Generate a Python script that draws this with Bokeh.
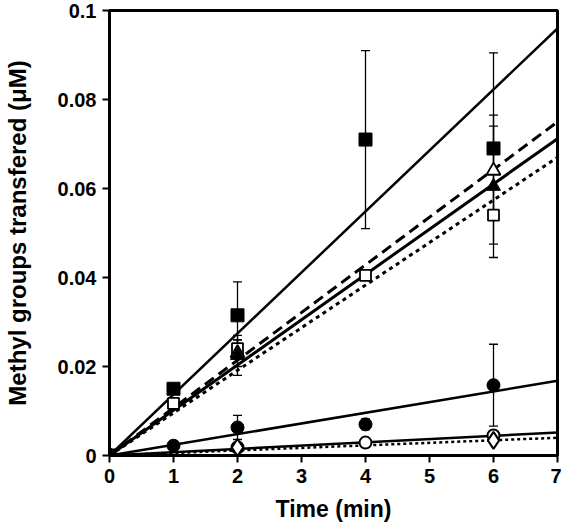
from bokeh.plotting import figure
from bokeh.models import ColumnDataSource, Whisker, TeeHead, FixedTicker, Range1d
from bokeh.embed import file_html
from bokeh.resources import INLINE

# ---- data ----
x_fit_range = [0, 7]

fsq_x = [0, 1, 2, 4, 6]
fsq_y = [0, 0.015, 0.0315, 0.071, 0.069]
fsq_err = [0, 0, 0.0075, 0.020, 0.0215]
fsq_slope = 0.01371

otri_x = [0, 2, 6]
otri_y = [0, 0.0230, 0.064]
otri_err = [0, 0.003, 0.010]
otri_slope = 0.01071

ftri_x = [0, 2, 6]
ftri_y = [0, 0.0225, 0.0605]
ftri_err = [0, 0.0045, 0.016]
ftri_slope = 0.01017

osq_x = [0, 1, 2, 4, 6]
osq_y = [0, 0.0117, 0.024, 0.0405, 0.054]
osq_err = [0, 0, 0.002, 0.0005, 0.001]
osq_slope = 0.00957

fcir_x = [0, 1, 2, 4, 6]
fcir_y = [0, 0.0022, 0.0063, 0.0070, 0.0158]
fcir_err = [0, 0, 0.0027, 0.0012, 0.0092]
fcir_slope = 0.0024

ocir_x = [0, 2, 4, 6]
ocir_y = [0, 0.0018, 0.0029, 0.0045]
ocir_slope = 0.00074

odia_x = [0, 2, 6]
odia_y = [0, 0.0018, 0.0034]
odia_slope = 0.00057

x_ticks = [0, 1, 2, 3, 4, 5, 6, 7]
y_ticks = [0, 0.02, 0.04, 0.06, 0.08, 0.1]
y_tick_labels = ["0", "0.02", "0.04", "0.06", "0.08", "0.1"]

FONT = "Liberation Sans"

p = figure(width=561, height=525, output_backend="svg", toolbar_location=None,
           x_range=Range1d(0, 7), y_range=Range1d(0, 0.1),
           min_border_left=105, min_border_right=4, min_border_top=10, min_border_bottom=70)
p.grid.visible = False
p.outline_line_color = "black"
p.outline_line_width = 3
p.background_fill_color = "white"
p.border_fill_color = "white"

# fit lines
def fit(slope):
    return [slope * x for x in x_fit_range]

p.line(x_fit_range, fit(fsq_slope), line_color="black", line_width=2.5)
p.line(x_fit_range, fit(otri_slope), line_color="black", line_width=3, line_dash="11 6")
p.line(x_fit_range, fit(ftri_slope), line_color="black", line_width=3)
p.line(x_fit_range, fit(osq_slope), line_color="black", line_width=3, line_dash="4 4")
p.line(x_fit_range, fit(fcir_slope), line_color="black", line_width=2.5)
p.line(x_fit_range, fit(ocir_slope), line_color="black", line_width=2.5)
p.line(x_fit_range, fit(odia_slope), line_color="black", line_width=2.5, line_dash="3 3")

# error bars
def add_err(xs, ys, errs):
    src = ColumnDataSource(dict(x=xs,
                                lo=[y - e for y, e in zip(ys, errs)],
                                hi=[y + e for y, e in zip(ys, errs)]))
    w = Whisker(source=src, base="x", lower="lo", upper="hi",
                line_color="black", line_width=1.3,
                upper_head=TeeHead(size=9, line_width=1.3, line_color="black"),
                lower_head=TeeHead(size=9, line_width=1.3, line_color="black"))
    p.add_layout(w)

add_err(fsq_x[2:], fsq_y[2:], fsq_err[2:])
add_err(otri_x[1:], otri_y[1:], otri_err[1:])
add_err(ftri_x[1:], ftri_y[1:], ftri_err[1:])
add_err(osq_x[2:], osq_y[2:], osq_err[2:])
add_err(fcir_x[2:], fcir_y[2:], fcir_err[2:])

# markers
p.scatter(ocir_x, ocir_y, marker="circle", size=12, fill_color="white", line_color="black", line_width=2)
p.scatter(odia_x, odia_y, marker="diamond", size=17, fill_color="white", line_color="black", line_width=2)
p.scatter(fcir_x, fcir_y, marker="circle", size=13, fill_color="black", line_color="black")
p.scatter(osq_x, osq_y, marker="square", size=11, fill_color="white", line_color="black", line_width=1.8)
p.scatter(otri_x, otri_y, marker="triangle", size=14, fill_color="white", line_color="black", line_width=1.8)
p.scatter(ftri_x, ftri_y, marker="triangle", size=14, fill_color="black", line_color="black")
p.scatter(fsq_x, fsq_y, marker="square", size=13, fill_color="black", line_color="black")

# axes styling
for ax in (p.xaxis[0], p.yaxis[0]):
    ax.axis_line_width = 3
    ax.major_tick_line_width = 2
    ax.major_tick_out = 7
    ax.major_tick_in = 0
    ax.minor_tick_line_color = None
    ax.major_label_text_font = FONT
    ax.major_label_text_font_style = "bold"
    ax.major_label_text_font_size = "20px"
    ax.major_label_text_color = "black"
    ax.axis_label_text_font = FONT
    ax.axis_label_text_font_style = "bold"
    ax.axis_label_text_color = "black"

p.xaxis[0].ticker = FixedTicker(ticks=x_ticks)
p.yaxis[0].ticker = FixedTicker(ticks=y_ticks)
p.yaxis[0].major_label_overrides = {t: l for t, l in zip(y_ticks, y_tick_labels)}
p.xaxis[0].axis_label = "Time (min)"
p.xaxis[0].axis_label_text_font_size = "23px"
p.xaxis[0].axis_label_standoff = 10
p.xaxis[0].major_label_standoff = 6
p.yaxis[0].axis_label = "Methyl groups transfered (μM)"
p.yaxis[0].axis_label_text_font_size = "24px"
p.yaxis[0].axis_label_standoff = 24
p.yaxis[0].major_label_standoff = 6

open("out.html", "w").write(file_html(p, INLINE))
